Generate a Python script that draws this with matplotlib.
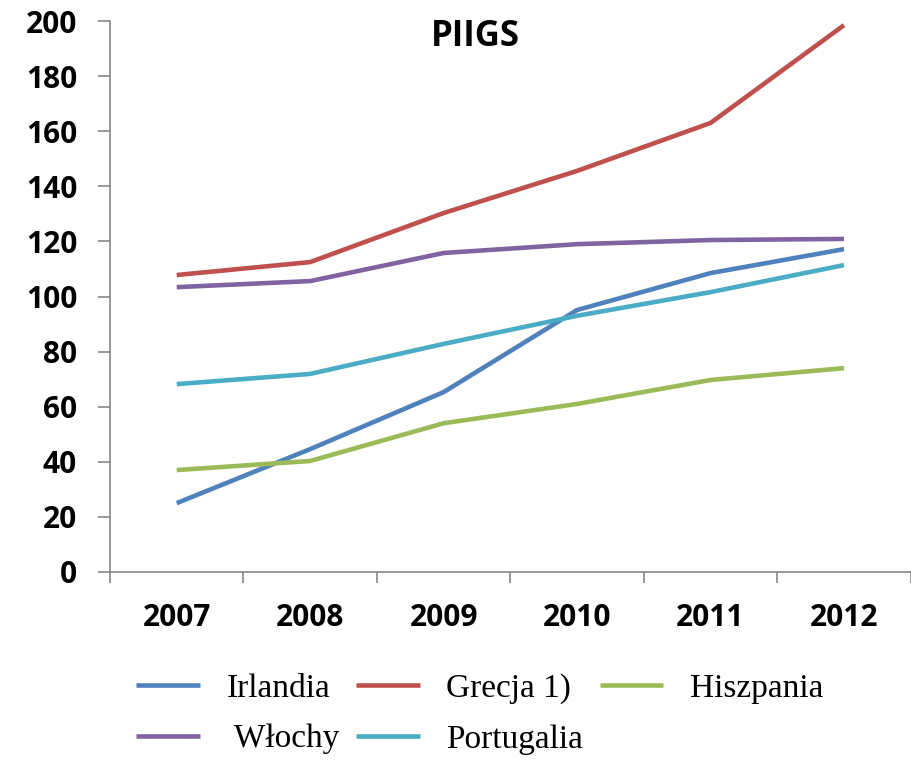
import matplotlib.pyplot as plt
from matplotlib.ticker import FixedLocator

years = ["2007", "2008", "2009", "2010", "2011", "2012"]

irlandia = [25, 44.6, 65.3, 95.1, 108.5, 117.2]
grecja = [107.8, 112.5, 130.3, 145.6, 163, 198.5]
hiszpania = [37, 40.3, 54, 61, 69.7, 74]
wlochy = [103.4, 105.6, 115.8, 119, 120.5, 120.9]
portugalia = [68.2, 71.9, 82.8, 93, 101.6, 111.4]

# order gives Irlandia/Grecja/Hiszpania in the first legend row
series = [
    ("Irlandia", irlandia, "#4F81BD"),
    (" Włochy", wlochy, "#8064A2"),
    ("Grecja 1)", grecja, "#C0504D"),
    ("Portugalia", portugalia, "#4BACC6"),
    ("Hiszpania", hiszpania, "#9BBB59"),
]

fig = plt.figure(figsize=(9.12, 7.65), dpi=100)
ax = fig.add_axes([0.1206, 0.2523, 0.878, 0.7202])

x = range(len(years))
for name, vals, col in series:
    ax.plot(x, vals, color=col, lw=3.3, label=name, solid_capstyle="butt")

ax.set_xlim(-0.5, len(years) - 0.5)
ax.set_ylim(0, 200)
ax.set_yticks(range(0, 201, 20))
ax.set_xticks(list(x))
ax.set_xticklabels(years)
ax.xaxis.set_minor_locator(FixedLocator([i - 0.5 for i in range(len(years) + 1)]))

axis_col = "#868686"
for side in ["top", "right"]:
    ax.spines[side].set_visible(False)
for side in ["left", "bottom"]:
    ax.spines[side].set_color(axis_col)
    ax.spines[side].set_linewidth(1.2)

ax.tick_params(axis="y", length=8.6, width=1.2, color=axis_col, pad=15)
ax.tick_params(axis="x", which="major", length=0, pad=22)
ax.tick_params(axis="x", which="minor", length=8, width=1.2, color=axis_col)
for lab in ax.get_xticklabels() + ax.get_yticklabels():
    lab.set_fontfamily("Open Sans")
    lab.set_fontweight("bold")
    lab.set_fontsize(21.5)

fig.text(0.521, 0.952, "PIIGS", ha="center", va="center",
         family="Open Sans", weight="bold", size=25)

leg = fig.legend(loc="lower left", bbox_to_anchor=(0.135, -0.004), ncol=3,
                 frameon=False, prop=dict(family="Liberation Serif", size=24),
                 handlelength=1.9, handletextpad=0.8, columnspacing=0.5,
                 labelspacing=0.6, borderaxespad=0)

fig.savefig("out.png", dpi=100)
